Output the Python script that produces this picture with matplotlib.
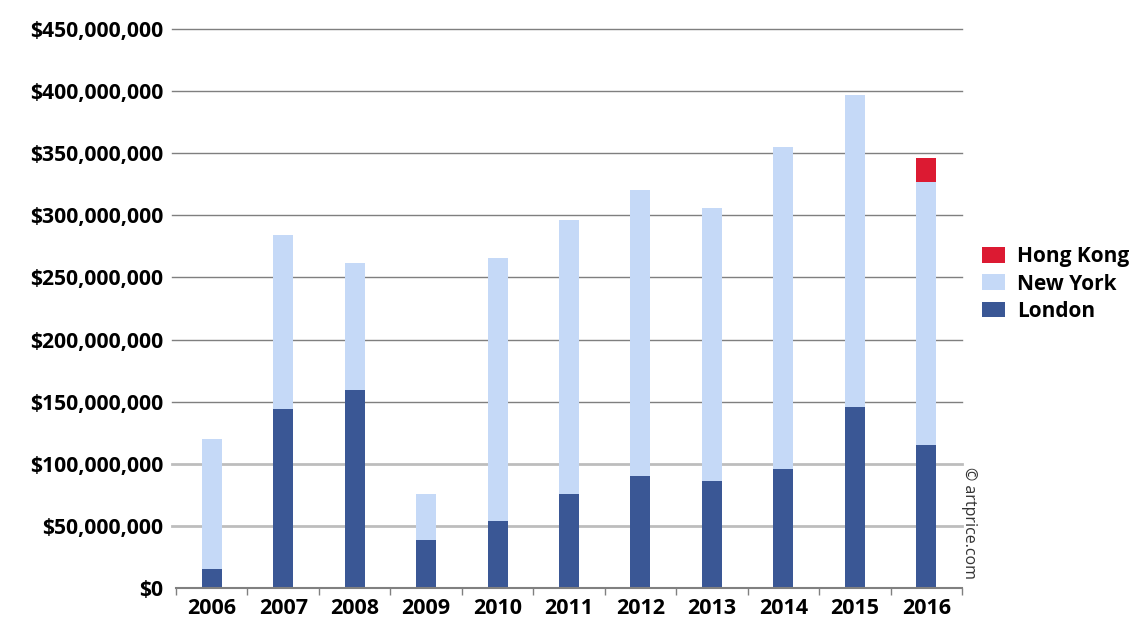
import numpy as np
from matplotlib import pyplot as plt
from matplotlib.ticker import FuncFormatter

years = ['2006', '2007', '2008', '2009', '2010', '2011', '2012', '2013', '2014', '2015', '2016']
# values in millions of dollars
london = [15, 144, 159, 39, 54, 76, 90, 86, 96, 146, 115]
new_york = [105, 140, 103, 37, 212, 220, 230, 220, 259, 251, 212]
hong_kong = [0, 0, 0, 0, 0, 0, 0, 0, 0, 0, 19]

c_london = '#3a5795'
c_ny = '#c5d9f7'
c_hk = '#dc1a32'

plt.rcParams['font.family'] = ['Open Sans', 'DejaVu Sans']

fig = plt.figure(figsize=(11.4, 6.36), dpi=100)
ax = fig.add_axes([176 / 1140, 1 - 588 / 636, (962 - 176) / 1140, (588 - 29) / 636])

x = np.arange(len(years))
lon = np.array(london) * 1e6
ny = np.array(new_york) * 1e6
hk = np.array(hong_kong) * 1e6
width = 0.28

b_lon = ax.bar(x, lon, width, color=c_london, label='London', zorder=3)
b_ny = ax.bar(x, ny, width, bottom=lon, color=c_ny, label='New York', zorder=3)
b_hk = ax.bar(x, hk, width, bottom=lon + ny, color=c_hk, label='Hong Kong', zorder=3)

ax.set_xlim(-0.5, len(years) - 0.5)
ax.set_ylim(0, 450e6)
ax.set_yticks(np.arange(0, 450e6 + 1, 50e6))
ax.yaxis.set_major_formatter(FuncFormatter(lambda v, p: '${:,.0f}'.format(v)))

ax.set_xticks(x)
ax.set_xticklabels(years)
ax.set_xticks(np.arange(-0.5, len(years), 1), minor=True)
ax.tick_params(axis='x', which='major', length=0, pad=7, labelsize=15.5)
ax.tick_params(axis='x', which='minor', length=5, color='#808080', width=1)
ax.tick_params(axis='y', length=0, pad=9, labelsize=15.2)
for lbl in ax.get_xticklabels() + ax.get_yticklabels():
    lbl.set_fontweight('bold')

for side in ['left', 'right', 'top']:
    ax.spines[side].set_visible(False)
ax.spines['bottom'].set_color('#808080')
ax.spines['bottom'].set_linewidth(1.5)
ax.spines['bottom'].set_zorder(4)

# horizontal grid lines, extended a little left of the axis
for v in ax.get_yticks()[1:]:
    col = '#bdbdbd' if v <= 100e6 else '#7f7f7f'
    lw = 2 if v <= 100e6 else 1
    ax.plot([-0.56, len(years) - 0.5], [v, v], color=col, lw=lw, zorder=1, clip_on=False)

leg = fig.legend(handles=[b_hk, b_ny, b_lon], labels=['Hong Kong', 'New York', 'London'],
                 loc='center left', bbox_to_anchor=(982 / 1140, 1 - 284 / 636),
                 frameon=False, prop={'weight': 'bold', 'size': 15},
                 borderpad=0, borderaxespad=0,
                 handlelength=1.1, handleheight=0.8, handletextpad=0.58, labelspacing=0.3)

fig.text(969 / 1140, 1 - 523 / 636, '© artprice.com', rotation=-90, fontsize=11.5,
         color='#333333', ha='center', va='center')

fig.savefig('out.png', dpi=100)
